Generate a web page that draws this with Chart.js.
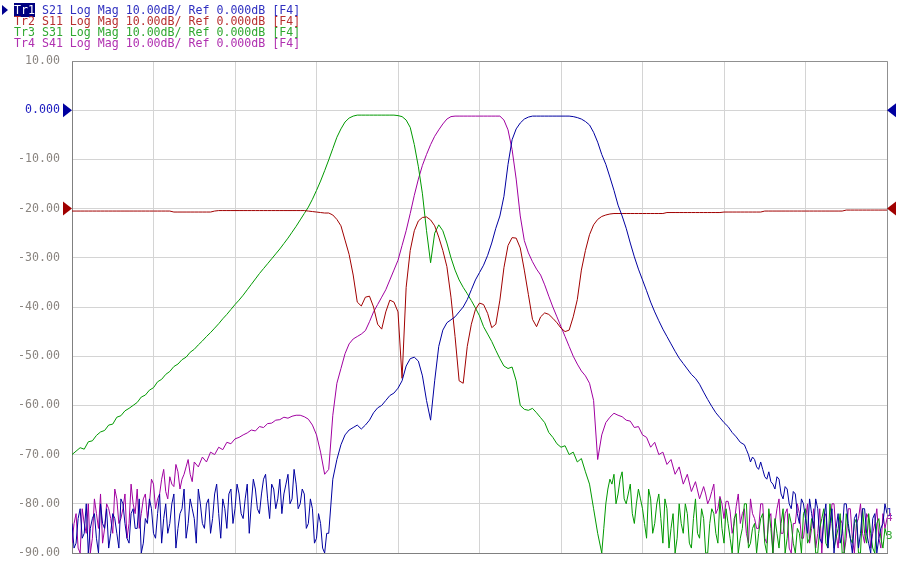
<!DOCTYPE html>
<html>
<head>
<meta charset="utf-8">
<script src="https://cdn.jsdelivr.net/npm/chart.js@4.4.1/dist/chart.umd.min.js"></script>
<style>
body { margin: 0; background: #fff; }
#wrap { position: relative; width: 900px; height: 565px; }
#hdr { position: absolute; left: 14px; top: 5px; font: 11.6px "DejaVu Sans Mono", monospace; line-height: 11px; white-space: pre; }
#hdr .on { background: #000080; color: #fff; }
#mark { position: absolute; left: 2px; top: 5px; width: 0; height: 0; border-top: 5px solid transparent; border-bottom: 5px solid transparent; border-left: 6px solid #000090; }
</style>
</head>
<body>
<div id="wrap">
  <canvas id="chart" width="900" height="565"></canvas>
  <div id="mark"></div>
  <div id="hdr"></div>
</div>
<script>
// trace names, parameters and colours
const traces = ["Tr1", "Tr2", "Tr3", "Tr4"];
const params = ["S21", "S11", "S31", "S41"];
const lineColors = ["#0000a0", "#a00000", "#009900", "#a000a0"];
const textColors = ["#3030c0", "#b83030", "#30a830", "#b030b0"];

const yTickValues = [10, 0, -10, -20, -30, -40, -50, -60, -70, -80, -90];
const yTickLabels = ["10.00", "0.000", "-10.00", "-20.00", "-30.00", "-40.00", "-50.00", "-60.00", "-70.00", "-80.00", "-90.00"];

// 201 sweep points, values in dB
const s21 = [
  -84,-88,-81,-86,-90,-83,-87,-80,-85,-89,
  -82,-86,-79,-84,-88,-81,-85,-90,-83,-79,
  -86,-82,-88,-80,-84,-78,-85,-81,-87,-79,
  -83,-77,-84,-80,-86,-78,-82,-79,-85,-77,
  -81,-78,-83,-76,-80,-77,-82,-75,-79,-76,
  -81,-75,-78,-74,-79,-76,-80,-78,-84,-81,
  -87,-84,-90,-86,-75,-71,-68,-66,-65,-64.5,
  -64,-64.8,-64,-63,-61.5,-60.5,-60,-59,-58,-57.5,
  -56.5,-55,-52,-50.5,-50.2,-51,-54,-59,-63,-55,
  -48,-44.7,-43.2,-42.6,-42,-41,-40,-38.5,-36.5,-34.5,
  -33,-31.5,-29.5,-27,-24,-21.5,-17.5,-11,-6,-3.8,
  -2.6,-1.8,-1.4,-1.2,-1.2,-1.2,-1.2,-1.2,-1.2,-1.2,
  -1.2,-1.2,-1.2,-1.3,-1.5,-1.8,-2.3,-3,-4.5,-6.5,
  -9,-11,-13.6,-16.3,-19.3,-21.5,-24,-27,-29.8,-32.3,
  -34.5,-36.7,-39,-41,-42.8,-44.5,-46,-47.5,-49,-50.4,
  -51.5,-52.6,-53.7,-54.5,-55.7,-57.3,-58.8,-60.2,-61.5,-62.5,
  -63.5,-64.3,-65.5,-66.4,-67.5,-68,-70,-70.5,-72.5,-71.5,
  -74.5,-73.5,-76,-74.5,-78,-76.5,-80,-77.5,-82,-79,
  -83,-79,-85,-81,-88,-80,-84,-90,-82,-86,
  -80,-87,-83,-89,-81,-86,-90,-82,-87,-84,-82
];
const s11 = [
  -20.5,-20.5,-20.5,-20.5,-20.5,-20.5,-20.5,-20.5,-20.5,-20.5,
  -20.5,-20.5,-20.5,-20.5,-20.5,-20.5,-20.5,-20.5,-20.5,-20.5,
  -20.5,-20.5,-20.5,-20.5,-20.5,-20.7,-20.7,-20.7,-20.7,-20.7,
  -20.7,-20.7,-20.7,-20.7,-20.7,-20.5,-20.4,-20.4,-20.4,-20.4,
  -20.4,-20.4,-20.4,-20.4,-20.4,-20.4,-20.4,-20.4,-20.4,-20.4,
  -20.4,-20.4,-20.4,-20.4,-20.4,-20.4,-20.4,-20.4,-20.5,-20.6,
  -20.7,-20.8,-20.9,-20.9,-21.3,-22.2,-23.5,-26.4,-29.3,-33.5,
  -39,-39.8,-38,-37.8,-40,-43.5,-44.5,-41,-38.6,-39,
  -41,-54.5,-36,-28.5,-24.5,-22.5,-21.8,-21.7,-22.3,-23.5,
  -25.8,-28.5,-31.8,-38,-46,-55,-55.5,-48,-43.5,-40.5,
  -39.2,-39.5,-41.3,-44.2,-43.5,-38.6,-32,-27.5,-25.9,-26,
  -28,-32.5,-37.5,-42.5,-44,-42,-41.2,-41.5,-42.3,-43.2,
  -44.3,-45,-44.7,-42,-38.5,-32.5,-28.5,-25.3,-23.3,-22.2,
  -21.6,-21.3,-21.1,-21,-21,-21,-21,-21,-21,-21,
  -21,-21,-21,-21,-21,-21,-20.8,-20.8,-20.8,-20.8,
  -20.8,-20.8,-20.8,-20.8,-20.8,-20.8,-20.8,-20.8,-20.8,-20.8,
  -20.7,-20.7,-20.7,-20.7,-20.7,-20.7,-20.7,-20.7,-20.7,-20.7,
  -20.5,-20.5,-20.5,-20.5,-20.5,-20.5,-20.5,-20.5,-20.5,-20.5,
  -20.5,-20.5,-20.5,-20.5,-20.5,-20.5,-20.5,-20.5,-20.5,-20.5,
  -20.3,-20.3,-20.3,-20.3,-20.3,-20.3,-20.3,-20.3,-20.3,-20.3,-20.3
];
const s31 = [
  -70,-69.3,-68.6,-68.9,-67.4,-67.2,-66.1,-65.4,-65.1,-64,
  -63.8,-62.4,-62.1,-61.1,-60.6,-60,-59.4,-58.3,-57.9,-56.9,
  -56.4,-55.2,-54.7,-53.7,-53.1,-52.1,-51.6,-50.7,-50.2,-49.2,
  -48.6,-47.7,-46.9,-46,-45.2,-44.3,-43.4,-42.4,-41.5,-40.5,
  -39.5,-38.6,-37.6,-36.5,-35.4,-34.3,-33.2,-32.2,-31.2,-30.2,
  -29.2,-28.2,-27.1,-26,-24.8,-23.6,-22.3,-21,-19.7,-18.1,
  -16.3,-14.4,-12.3,-10.1,-7.8,-5.5,-3.8,-2.4,-1.6,-1.2,
  -1,-1,-1,-1,-1,-1,-1,-1,-1,-1,
  -1.1,-1.3,-2,-3.5,-7,-11.5,-17,-24.5,-31,-25,
  -23.3,-24.5,-27,-30,-32.5,-34.5,-36,-37.3,-38.7,-40.2,
  -41.8,-44,-45.5,-47,-48.8,-50.5,-52,-52.5,-52.2,-55,
  -60,-60.8,-61,-60.6,-61.5,-62.5,-63.5,-65.5,-66.5,-67.8,
  -68.5,-68.2,-70,-69.5,-71.5,-70.8,-73.5,-76,-81,-86,
  -90,-80,-75,-74,-78,-73.5,-80,-76,-84,-77,
  -81,-87,-79,-84,-78,-88,-81,-85,-90,-80,
  -86,-82,-89,-79,-87,-83,-90,-81,-86,-79,
  -88,-84,-90,-82,-87,-80,-89,-85,-90,-83,
  -88,-81,-90,-86,-84,-90,-82,-88,-85,-90,
  -81,-87,-84,-90,-83,-88,-80,-89,-85,-90,
  -82,-87,-84,-90,-81,-88,-86,-90,-83,-89,-86.5
];
const s41 = [
  -88,-82,-90,-84,-80,-87,-82,-78,-85,-81,
  -86,-79,-83,-78,-84,-80,-77,-82,-78,-80,
  -76,-79,-75,-77.5,-74.5,-76.5,-73.5,-75,-72.5,-74,
  -71.5,-72.5,-70.5,-71.5,-69.5,-70,-68.5,-69,-67.5,-67.8,
  -66.8,-66.5,-66,-65.6,-65,-65.2,-64.3,-64.5,-63.7,-63.6,
  -63,-62.9,-62.4,-62.6,-62.2,-62,-62,-62.3,-62.8,-64,
  -66,-69.5,-74,-73,-62,-55.5,-52.5,-49.5,-47.5,-46.5,
  -46,-45.5,-44.8,-43,-41,-39.5,-38,-36.5,-34.5,-32.5,
  -30.5,-27.5,-24.5,-21,-17.3,-14,-11.2,-9,-7,-5.3,
  -4,-2.8,-1.8,-1.3,-1.2,-1.2,-1.2,-1.2,-1.2,-1.2,
  -1.2,-1.2,-1.2,-1.2,-1.2,-1.2,-2,-4,-8,-14,
  -21.5,-26.5,-29,-30.8,-32.3,-33.5,-35.5,-37.8,-40,-42,
  -44,-46,-48,-50,-51.6,-53,-54,-55.5,-59,-71,
  -66,-63.5,-62.4,-61.6,-62,-62.3,-63,-63.2,-64.5,-64.3,
  -66,-66.5,-68.5,-67.5,-70,-69.5,-72,-71,-74,-72.5,
  -76,-74,-77.5,-75.5,-79,-76.5,-80,-77.5,-82,-78.5,
  -83,-79.5,-86,-80.5,-84,-81,-88,-82,-85,-80,
  -87,-83,-90,-81,-86,-82,-89,-84,-80,-87,
  -83,-88,-81,-86,-90,-82,-85,-80,-89,-84,
  -87,-81,-90,-83,-86,-82,-89,-84,-87,-82,-83
];

// extra half-step readings in the noisy stretches (first one sits at start + 0.5)
const s21MidLeft = [
  -89,-83,-87,-80,-85,-82,-90,-84,-81,-86,
  -83,-89,-80,-87,-82,-85,-79,-88,-84,-81,
  -87,-78,-83,-86,-80,-89,-82,-77,-84,-81,
  -88,-80,-85,-79,-83,-76,-87,-81,-78,-84,
  -76,-82,-79,-86,-75,-81,-78,-74,-83,-77,
  -79,-82,-76,-80,-73,-81,-77,-85,-79,-88,
  -82,-89,-86
];
const s21MidRight = [
  -69,-71.5,-71,-73,-73,-75,-75.5,-77,-75,-79,
  -77,-81,-78,-84,-80,-86,-82,-79,-87,-83,
  -89,-81,-85,-88,-80,-84,-90,-82,-86,-81,
  -88,-83,-90,-85,-80
];
const s41MidLeft = [
  -84,-89,-81,-86,-90,-79,-85,-88,-80,-83,
  -77,-84,-81,-87,-76,-82,-85,-79,-83,-75,
  -81,-78,-73,-79,-76,-72,-77,-74,-71,-75.5
];
const s41MidRight = [
  -78,-79,-76,-81,-80,-79.5,-81.5,-84,-78,-82,
  -86,-79,-83,-85,-80,-88,-82,-84,-79,-86,
  -81,-90,-84,-82,-87,-80,-85,-89,-81,-83,
  -88,-80,-86,-83,-90,-81,-87,-84,-80,-88,
  -83,-86,-81,-89,-85
];
const s31MidRight = [
  -85,-77,-76,-80,-75,-79,-78,-82,-80,-79,
  -84,-77,-86,-80,-83,-79,-89,-82,-87,-84,
  -80,-88,-83,-86,-81,-90,-84,-82,-88,-85,
  -81,-87,-83,-90,-85,-80,-88,-84,-86,-82,
  -90,-85,-83,-89,-81,-87,-84,-90,-86,-82,
  -88,-83,-90,-85,-81,-89,-84,-87,-82,-90,
  -85,-88,-83,-90,-86,-82,-89,-84,-87,-85
];

const series = [s21, s11, s31, s41];
const extras = [
  [[0, s21MidLeft], [165, s21MidRight]],
  [],
  [[130, s31MidRight]],
  [[0, s41MidLeft], [155, s41MidRight]]
];

function buildPoints(k) {
  const pts = series[k].map((v, j) => ({ x: j, y: v }));
  extras[k].forEach(([start, arr]) => {
    arr.forEach((v, j) => pts.push({ x: start + j + 0.5, y: v }));
  });
  return pts.sort((a, b) => a.x - b.x);
}

// header lines
const hdr = document.getElementById("hdr");
traces.forEach((t, i) => {
  const line = document.createElement("div");
  line.style.color = textColors[i];
  const name = document.createElement("span");
  name.textContent = t;
  if (i === 0) name.className = "on";
  line.appendChild(name);
  line.appendChild(document.createTextNode(" " + params[i] + " Log Mag 10.00dB/ Ref 0.000dB [F4]"));
  hdr.appendChild(line);
});

// reference triangles, frame and trace end numbers
const vnaDecor = {
  id: "vnaDecor",
  afterDraw(chart) {
    const ctx = chart.ctx;
    const a = chart.chartArea;
    const ys = chart.scales.y;
    ctx.save();
    ctx.strokeStyle = "#909090";
    ctx.lineWidth = 1;
    ctx.beginPath();
    ctx.moveTo(a.left, a.top + 0.5);
    ctx.lineTo(a.right + 0.5, a.top + 0.5);
    ctx.lineTo(a.right + 0.5, a.bottom);
    ctx.stroke();

    const refs = [[0, lineColors[0]], [-20, lineColors[1]]];
    refs.forEach(([v, c]) => {
      const y = ys.getPixelForValue(v);
      ctx.fillStyle = c;
      ctx.beginPath();
      ctx.moveTo(a.left - 9, y - 7);
      ctx.lineTo(a.left, y);
      ctx.lineTo(a.left - 9, y + 7);
      ctx.fill();
      ctx.beginPath();
      ctx.moveTo(a.right + 9, y - 7);
      ctx.lineTo(a.right, y);
      ctx.lineTo(a.right + 9, y + 7);
      ctx.fill();
    });

    ctx.font = '11px "DejaVu Sans Mono"';
    ctx.textBaseline = "middle";
    [0, 3, 2].forEach(k => {
      const last = series[k][series[k].length - 1];
      ctx.fillStyle = textColors[k];
      ctx.fillText(traces[k].slice(2), a.right - 1, ys.getPixelForValue(last));
    });
    ctx.restore();
  }
};

const ctx = document.getElementById("chart").getContext("2d");
const chart = new Chart(ctx, {
  type: "line",
  data: {
    datasets: series.map((s, i) => ({
      label: traces[i] + " " + params[i],
      data: buildPoints(i),
      borderColor: lineColors[i],
      borderWidth: 1,
      pointRadius: 0,
      tension: 0,
      fill: false
    }))
  },
  options: {
    responsive: false,
    animation: false,
    devicePixelRatio: 1,
    layout: { padding: { left: 0, top: 61, right: 13, bottom: 12 } },
    plugins: { legend: { display: false }, tooltip: { enabled: false } },
    scales: {
      x: {
        type: "linear", min: 0, max: 200,
        ticks: { display: false, stepSize: 20 },
        grid: { color: "#d4d4d4", drawTicks: false },
        border: { color: "#808080" },
        afterFit: s => { s.height = 0; }
      },
      y: {
        min: -90, max: 10,
        afterBuildTicks: s => { s.ticks = yTickValues.map(v => ({ value: v })); },
        ticks: {
          padding: 0,
          font: { family: "DejaVu Sans Mono", size: 11.6 },
          color: c => (c.tick && c.tick.value === 0) ? "#2020c0" : "#8a8580",
          callback: v => yTickLabels[yTickValues.indexOf(v)]
        },
        grid: { color: "#d4d4d4", drawTicks: true, tickLength: 12, tickColor: "rgba(0,0,0,0)" },
        border: { color: "#808080" },
        afterFit: s => { s.width = 72; }
      }
    }
  },
  plugins: [vnaDecor]
});
</script>
</body>
</html>
